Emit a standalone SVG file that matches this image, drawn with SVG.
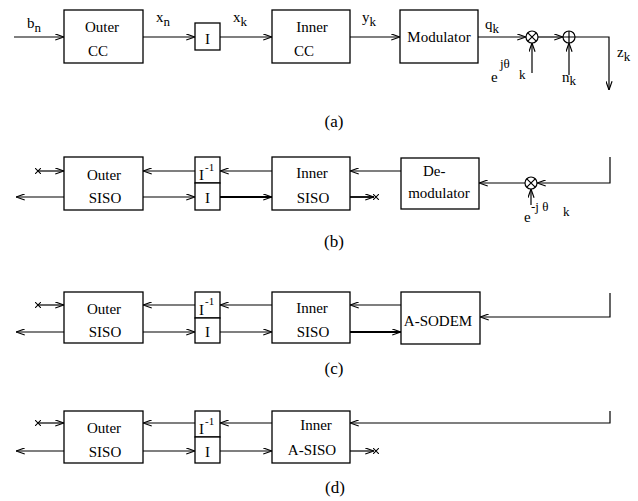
<svg xmlns="http://www.w3.org/2000/svg" width="638" height="501" viewBox="0 0 638 501">
<defs>
<style>
.box{fill:#fff;stroke:#000;stroke-width:1.3}
.ln{fill:none;stroke:#000;stroke-width:1.2}
.thick{stroke-width:1.8}
.t{font-family:"Liberation Serif","Times New Roman",serif;font-size:15px;fill:#000}
.s{font-size:13px}
.sup{font-size:11px}
.c{text-anchor:middle}
.lab{font-family:"Liberation Serif","Times New Roman",serif;font-size:17px;fill:#000;text-anchor:middle}
</style>
<marker id="arr" viewBox="0 0 10 8" refX="10" refY="4" markerWidth="9" markerHeight="7" markerUnits="userSpaceOnUse" orient="auto">
<path d="M0,0.5 L10,4 L0,7.5" fill="none" stroke="#000" stroke-width="1.3"/>
</marker>
<marker id="xm" viewBox="0 0 8 8" refX="4" refY="4" markerWidth="6" markerHeight="6" markerUnits="userSpaceOnUse" orient="0">
<path d="M0,0 L8,8 M8,0 L0,8" fill="none" stroke="#000" stroke-width="1.4"/>
</marker>
</defs>
<rect width="638" height="501" fill="#fff"/>

<g id="connectors">
<!-- panel a -->
<path class="ln" d="M14,37 H64" marker-end="url(#arr)"/>
<path class="ln" d="M143,37 H195" marker-end="url(#arr)"/>
<path class="ln" d="M220,37 H272" marker-end="url(#arr)"/>
<path class="ln" d="M350,37 H400" marker-end="url(#arr)"/>
<path class="ln" d="M478,37 H526" marker-end="url(#arr)"/>
<path class="ln" d="M538,37 H563" marker-end="url(#arr)"/>
<path class="ln" d="M575,37 H609 V90" marker-end="url(#arr)"/>
<path class="ln" d="M532,73 V43" marker-end="url(#arr)"/>
<path class="ln" d="M569,75 V43" marker-end="url(#arr)"/>
<!-- panel b -->
<path class="ln" d="M38,171 H64" marker-start="url(#xm)" marker-end="url(#arr)"/>
<path class="ln" d="M64,197 H16" marker-end="url(#arr)"/>
<path class="ln" d="M272,171 H220" marker-end="url(#arr)"/>
<path class="ln" d="M195,171 H143" marker-end="url(#arr)"/>
<path class="ln" d="M143,197 H195" marker-end="url(#arr)"/>
<path class="ln thick" d="M220,197 H272" marker-end="url(#arr)"/>
<path class="ln" d="M401,171 H350" marker-end="url(#arr)"/>
<path class="ln thick" d="M350,197 H374" marker-end="url(#arr)"/>
<path class="ln" d="M376,197 H376.1" marker-start="url(#xm)"/>
<path class="ln" d="M610,157 V183 H537" marker-end="url(#arr)"/>
<path class="ln" d="M525,183 H479" marker-end="url(#arr)"/>
<path class="ln" d="M531,205 V189" marker-end="url(#arr)"/>
<!-- panel c -->
<path class="ln" d="M38,305 H64" marker-start="url(#xm)" marker-end="url(#arr)"/>
<path class="ln" d="M64,332 H16" marker-end="url(#arr)"/>
<path class="ln" d="M272,305 H220" marker-end="url(#arr)"/>
<path class="ln" d="M195,305 H143" marker-end="url(#arr)"/>
<path class="ln" d="M143,332 H195" marker-end="url(#arr)"/>
<path class="ln" d="M220,332 H272" marker-end="url(#arr)"/>
<path class="ln" d="M401,305 H350" marker-end="url(#arr)"/>
<path class="ln thick" d="M350,332 H401" marker-end="url(#arr)"/>
<path class="ln" d="M610,293 V317 H480" marker-end="url(#arr)"/>
<!-- panel d -->
<path class="ln" d="M38,423 H64" marker-start="url(#xm)" marker-end="url(#arr)"/>
<path class="ln" d="M64,451 H16" marker-end="url(#arr)"/>
<path class="ln" d="M272,423 H220" marker-end="url(#arr)"/>
<path class="ln" d="M195,423 H143" marker-end="url(#arr)"/>
<path class="ln" d="M143,451 H195" marker-end="url(#arr)"/>
<path class="ln" d="M220,451 H272" marker-end="url(#arr)"/>
<path class="ln" d="M610,411 V423 H350" marker-end="url(#arr)"/>
<path class="ln" d="M350,451 H374" marker-end="url(#arr)"/>
<path class="ln" d="M376,451 H376.1" marker-start="url(#xm)"/>
</g>

<!-- panel (a) -->
<g id="a-outer-cc"><rect class="box" x="64" y="10" width="79" height="53"/>
<text class="t c" x="102" y="32">Outer</text><text class="t c" x="98" y="56">CC</text></g>
<g id="a-interleaver"><rect class="box" x="195" y="23" width="25" height="27"/>
<text class="t c" x="207.5" y="44">I</text></g>
<g id="a-inner-cc"><rect class="box" x="272" y="10" width="78" height="53"/>
<text class="t c" x="312" y="32">Inner</text><text class="t c" x="304" y="56">CC</text></g>
<g id="a-modulator"><rect class="box" x="400" y="10" width="78" height="53"/>
<text class="t c" x="439" y="42">Modulator</text></g>
<g id="a-mult"><circle class="ln" cx="532" cy="37" r="6"/>
<path class="ln" d="M527.8,32.8 L536.2,41.2 M536.2,32.8 L527.8,41.2"/></g>
<g id="a-adder"><circle class="ln" cx="569" cy="37" r="6"/>
<path class="ln" d="M563,37 H575 M569,31 V43"/></g>
<g id="a-labels">
<text class="t" x="27" y="28">b<tspan class="s" dy="4">n</tspan></text>
<text class="t" x="156" y="22">x<tspan class="s" dy="4">n</tspan></text>
<text class="t" x="233" y="22">x<tspan class="s" dy="4">k</tspan></text>
<text class="t" x="362" y="22">y<tspan class="s" dy="4">k</tspan></text>
<text class="t" x="485" y="29">q<tspan class="s" dy="4">k</tspan></text>
<text class="t" x="617" y="57">z<tspan class="s" dy="4">k</tspan></text>
<text class="t" x="491" y="82">e<tspan class="s" x="500" y="68">jθ</tspan><tspan class="s" x="519" y="79">k</tspan></text>
<text class="t" x="562" y="82">n<tspan class="s" dy="3">k</tspan></text>
<text class="lab" x="334" y="127">(a)</text>
</g>

<!-- panel (b) -->
<g id="b-outer-siso"><rect class="box" x="64" y="157" width="79" height="53"/>
<text class="t c" x="104" y="180">Outer</text><text class="t c" x="105" y="203">SISO</text></g>
<g id="b-deinterleaver"><rect class="box" x="195" y="157" width="25" height="26"/>
<text class="t" x="199" y="180">I<tspan class="sup" x="205" y="171">-1</tspan></text></g>
<g id="b-interleaver"><rect class="box" x="195" y="183" width="25" height="27"/>
<text class="t c" x="207.5" y="203">I</text></g>
<g id="b-inner-siso"><rect class="box" x="272" y="157" width="78" height="53"/>
<text class="t c" x="312" y="178">Inner</text><text class="t c" x="313" y="203">SISO</text></g>
<g id="b-demodulator"><rect class="box" x="401" y="158" width="78" height="51"/>
<text class="t" x="423" y="176">De-</text><text class="t c" x="439" y="198">modulator</text></g>
<g id="b-mult"><circle class="ln" cx="531" cy="183" r="6"/>
<path class="ln" d="M526.8,178.8 L535.2,187.2 M535.2,178.8 L526.8,187.2"/></g>
<g id="b-labels">
<text class="t" x="524" y="222">e<tspan class="s" x="531" y="211">-j θ</tspan><tspan class="s" x="563" y="216">k</tspan></text>
<text class="lab" x="334" y="247">(b)</text>
</g>

<!-- panel (c) -->
<g id="c-outer-siso"><rect class="box" x="64" y="292" width="79" height="51"/>
<text class="t c" x="104" y="314">Outer</text><text class="t c" x="105" y="337">SISO</text></g>
<g id="c-deinterleaver"><rect class="box" x="195" y="292" width="25" height="26"/>
<text class="t" x="199" y="315">I<tspan class="sup" x="205" y="305">-1</tspan></text></g>
<g id="c-interleaver"><rect class="box" x="195" y="318" width="25" height="25"/>
<text class="t c" x="207.5" y="337">I</text></g>
<g id="c-inner-siso"><rect class="box" x="272" y="292" width="78" height="51"/>
<text class="t c" x="312" y="313">Inner</text><text class="t c" x="313" y="337">SISO</text></g>
<g id="c-a-sodem"><rect class="box" x="401" y="292" width="79" height="52"/>
<text class="t c" x="438" y="326">A-SODEM</text></g>
<g id="c-labels"><text class="lab" x="334" y="374">(c)</text></g>

<!-- panel (d) -->
<g id="d-outer-siso"><rect class="box" x="64" y="411" width="79" height="52"/>
<text class="t c" x="104" y="433">Outer</text><text class="t c" x="105" y="457">SISO</text></g>
<g id="d-deinterleaver"><rect class="box" x="195" y="411" width="25" height="26"/>
<text class="t" x="199" y="434">I<tspan class="sup" x="205" y="425">-1</tspan></text></g>
<g id="d-interleaver"><rect class="box" x="195" y="437" width="25" height="26"/>
<text class="t c" x="207.5" y="457">I</text></g>
<g id="d-inner-asiso"><rect class="box" x="272" y="411" width="78" height="52"/>
<text class="t c" x="316" y="430">Inner</text><text class="t c" x="312" y="455">A-SISO</text></g>
<g id="d-labels"><text class="lab" x="335" y="493">(d)</text></g>
</svg>
